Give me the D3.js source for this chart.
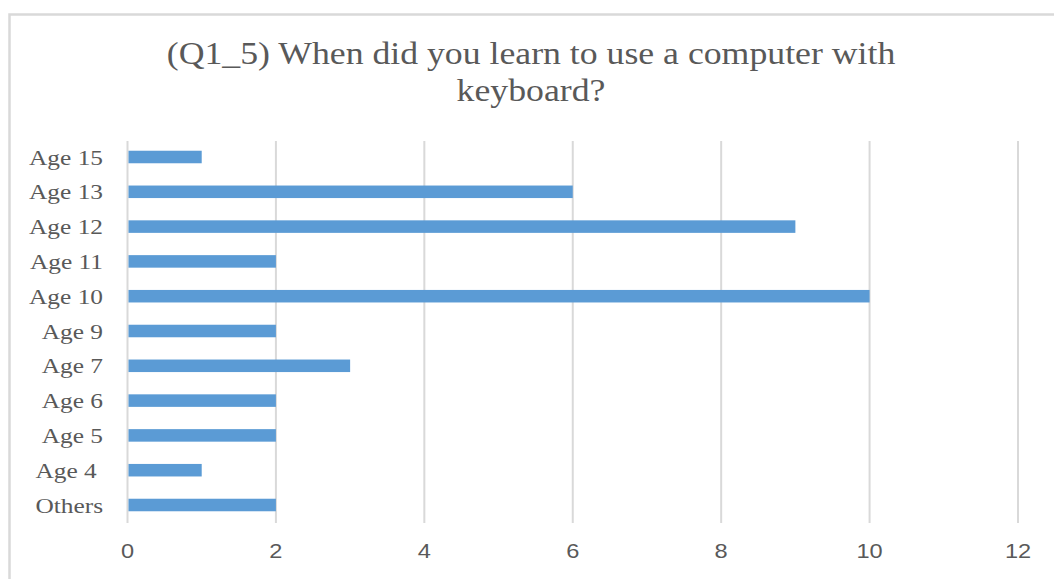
<!DOCTYPE html>
<html>
<head>
<meta charset="utf-8">
<script src="https://cdn.jsdelivr.net/npm/d3@7"></script>
<style>
  html, body { margin: 0; padding: 0; background: #ffffff; }
  svg { display: block; }
  text { white-space: pre; }
</style>
</head>
<body>
<script>
// Survey answers: age at which respondents learned to use a keyboard computer
const categories = ["Age 15", "Age 13", "Age 12", "Age 11", "Age 10", "Age 9", "Age 7", "Age 6", "Age 5", "Age 4 ", "Others"];
const counts = [1, 6, 9, 2, 10, 2, 3, 2, 2, 1, 2];
const xTicks = [0, 2, 4, 6, 8, 10, 12];
const titleLines = ["(Q1_5) When did you learn to use a computer with", "keyboard?"];

const W = 1054, H = 579;
const textColor = "#595959";
const stretch = 1.18;

const svg = d3.select("body").append("svg")
  .attr("width", W).attr("height", H);

// chart frame
svg.append("path")
  .attr("d", `M9.5,${H + 5} V14.5 H${W + 5}`)
  .attr("fill", "none")
  .attr("stroke", "#d9d9d9")
  .attr("stroke-width", 2.5);

const x = d3.scaleLinear().domain([0, 12]).range([127.5, 1018]);
const y = d3.scaleBand().domain(categories).range([139.6, 522.4])
  .paddingInner(0.64).paddingOuter(0.32);

// vertical gridlines
svg.append("g").selectAll("line").data(xTicks).join("line")
  .attr("x1", d => x(d)).attr("x2", d => x(d))
  .attr("y1", 141).attr("y2", 523)
  .attr("stroke", "#d9d9d9").attr("stroke-width", 2);

// bars
svg.append("g").selectAll("rect").data(categories).join("rect")
  .attr("x", x(0) + 1)
  .attr("y", (d) => y(d))
  .attr("width", (d, i) => x(counts[i]) - x(0) - 1)
  .attr("height", y.bandwidth())
  .attr("fill", "#5b9bd5");

// x tick labels
svg.append("g").selectAll("text").data(xTicks).join("text")
  .attr("transform", d => `translate(${x(d)},558) scale(${stretch},1)`)
  .attr("text-anchor", "middle")
  .attr("font-family", "Liberation Sans, Arial, sans-serif")
  .attr("font-size", 20)
  .attr("fill", textColor)
  .text(d => d);

// category labels
svg.append("g").selectAll("text").data(categories).join("text")
  .attr("transform", d => `translate(103,${y(d) + y.bandwidth() / 2 + 7.5}) scale(${stretch},1)`)
  .attr("text-anchor", "end")
  .attr("font-family", "Liberation Serif, Times New Roman, serif")
  .attr("font-size", 21.5)
  .attr("fill", textColor)
  .text(d => d);

// title
svg.append("g").selectAll("text").data(titleLines).join("text")
  .attr("transform", (d, i) => `translate(531,${64 + i * 37}) scale(1.153,1)`)
  .attr("text-anchor", "middle")
  .attr("font-family", "Liberation Serif, Times New Roman, serif")
  .attr("font-size", 31)
  .attr("fill", textColor)
  .text(d => d);
</script>
</body>
</html>
